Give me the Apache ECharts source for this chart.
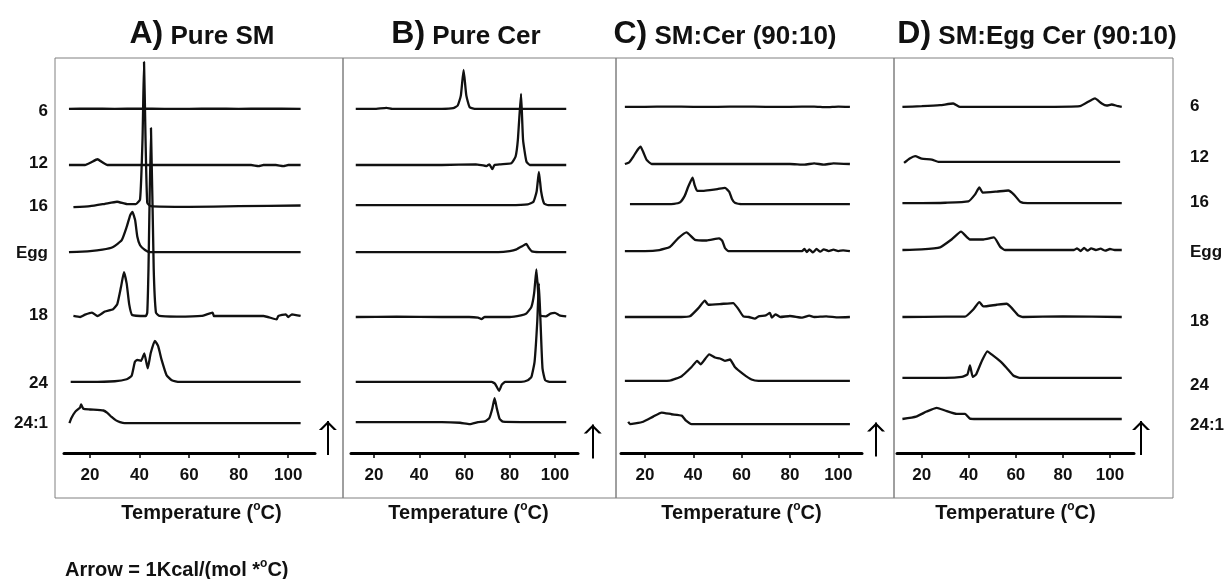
<!DOCTYPE html>
<html>
<head>
<meta charset="utf-8">
<script src="https://cdn.jsdelivr.net/npm/echarts@6/dist/echarts.min.js"></script>
<style>
  html, body { margin: 0; padding: 0; background: #fff; }
  #chart { width: 1225px; height: 579px; }
</style>
</head>
<body>
<div id="chart"></div>
<script>
// ---- data ----
const rowNames = ['6', '12', '16', 'Egg', '18', '24', '24:1']
const panelLetters = ['A)', 'B)', 'C)', 'D)']
const panelNames = ['Pure SM', 'Pure Cer', 'SM:Cer (90:10)', 'SM:Egg Cer (90:10)']
const tempTicks = [20, 40, 60, 80, 100]

// baseline of every thermogram, kcal/(mol*°C) above the temperature axis
const rowOffsets = [
  [10.12, 8.47, 7.26, 5.91, 4.03, 2.09, 0.88],
  [10.12, 8.47, 7.29, 5.91, 4.0, 2.09, 0.91],
  [10.18, 8.5, 7.32, 5.94, 4.0, 2.12, 0.85],
  [10.18, 8.56, 7.35, 5.97, 4.0, 2.21, 1.0]
]
// where the row names sit on the left and right side
const leftLabelAt = [10.06, 8.53, 7.26, 5.88, 4.06, 2.06, 0.88]
const rightLabelAt = [10.21, 8.71, 7.38, 5.91, 3.88, 1.99, 0.82]

// scale arrow = 1 kcal/(mol*°C)
const arrowTemp = [116, 116.7, 115.6, 113.2]
const arrowBase = [-0.06, -0.16, -0.1, -0.06]
const arrowLength = 1

// excess heat capacity [°C, kcal/(mol*°C)] above each baseline
const pureSM = [
  [[11.5, 0], [20, 0.01], [30, 0], [40, 0.01], [50, 0], [60, 0], [70, 0.01], [80, 0], [90, 0.01], [105, 0]],
  [[11.5, 0], [18, 0], [20.5, 0.08], [23, 0.17], [25, 0.08], [27, 0], [40, 0], [60, 0], [85, 0], [88, -0.03], [90, 0], [95, 0], [98, -0.03], [100, 0], [105, 0]],
  [[13.3, -0.03], [20, 0], [26, 0.07], [30.9, 0.13], [35, 0.06], [38.5, 0.06], [40.2, 0.2], [41.2, 2.0], [41.8, 4.24], [42.4, 2.0], [43.1, 0.1], [44.5, 0], [60, -0.02], [80, 0], [105, 0.02]],
  [[11.5, 0], [20, 0.03], [25, 0.07], [29.3, 0.15], [32.8, 0.35], [34.8, 0.74], [36.2, 1.08], [37.1, 1.18], [38.2, 0.94], [39.1, 0.45], [40.2, 0.2], [42.2, 0.06], [44.2, 0], [60, 0], [80, 0], [105, 0]],
  [[13.3, 0], [16, -0.03], [18, 0.04], [20.8, 0.1], [23, 0], [26, 0.13], [29.3, 0.2], [31, 0.35], [32.5, 0.85], [33.7, 1.29], [34.8, 0.95], [35.8, 0.35], [37, 0.03], [42.5, 0], [43.1, 0.1], [43.6, 1.4], [44.6, 5.53], [45.7, 1.4], [46.6, 0.1], [48, 0], [55, -0.02], [65, 0], [69.5, 0.1], [70, 0], [80, 0], [90, 0], [95.3, -0.1], [96, 0], [99, 0.05], [100, -0.03], [101.5, 0.05], [105, 0]],
  [[12.2, 0], [20, 0], [30, 0.02], [34.8, 0.08], [36.8, 0.18], [38.1, 0.59], [39.1, 0.65], [40.6, 0.62], [41.9, 0.84], [43.3, 0.4], [44.5, 0.85], [46.2, 1.21], [47.5, 1.05], [48.9, 0.65], [50.9, 0.2], [53, 0.05], [56, 0], [70, 0], [90, 0], [105, 0]],
  [[11.7, 0], [12.5, 0.15], [14, 0.33], [16, 0.46], [16.4, 0.55], [17.3, 0.42], [20, 0.4], [25.4, 0.37], [27, 0.3], [28.7, 0.18], [30.5, 0.08], [32.1, 0.03], [34, 0], [50, 0], [70, 0], [90, 0], [105, 0]]
]
const pureCer = [
  [[11.9, 0], [20, 0], [25.5, 0.03], [28, 0], [40, 0], [50, 0], [55, 0.02], [57, 0.1], [58.4, 0.4], [59.6, 1.15], [60.8, 0.4], [62.3, 0.05], [65, 0], [80, 0], [95, 0], [105, 0]],
  [[11.9, 0], [30, 0], [50, 0], [65, 0.02], [69.7, -0.03], [71, 0.02], [72.3, -0.12], [73.3, 0], [76, 0.02], [80.7, 0.05], [82.6, 0.25], [83.6, 0.74], [85, 2.09], [85.9, 0.74], [87.4, 0.1], [88.9, 0], [95, 0], [105, 0]],
  [[11.9, 0], [40, 0], [60, 0], [80, 0], [88, 0.02], [90.5, 0.1], [91.9, 0.4], [92.9, 0.98], [93.9, 0.4], [95.2, 0.05], [97, 0], [105, 0]],
  [[11.9, 0], [40, 0], [60, 0], [75, 0], [80, 0.03], [83, 0.08], [85.5, 0.17], [87.3, 0.24], [88.5, 0.12], [89.8, 0.02], [93, 0], [105, 0]],
  [[11.9, 0], [30, 0.01], [50, 0], [62, 0], [66, -0.02], [67.5, -0.06], [69, 0], [80, 0], [85, 0.05], [87.3, 0.1], [89.6, 0.3], [90.8, 0.7], [91.8, 1.4], [92.8, 0.5], [93.5, 0.05], [96, 0.02], [98, 0.1], [100, 0.12], [102, 0.05], [105, 0.02]],
  [[11.9, 0], [30, 0], [50, 0], [65, 0], [72, 0], [73.5, -0.05], [75.3, -0.26], [76.5, -0.08], [78, 0], [85, 0], [88, 0.05], [89.6, 0.15], [91, 0.6], [92.2, 1.8], [92.9, 2.9], [93.6, 1.8], [94.5, 0.4], [95.7, 0.05], [98, 0], [105, 0]],
  [[11.9, 0], [30, 0], [50, 0], [58, -0.02], [62.3, -0.06], [66, 0], [69, 0.02], [71, 0.12], [72.3, 0.4], [73.3, 0.7], [74.3, 0.4], [75.5, 0.1], [77, 0.01], [85, 0], [105, 0]]
]
const smCer = [
  [[11.7, 0], [20, 0], [30, 0.01], [40, 0], [50, 0], [60, 0.01], [70, 0], [80, 0], [90, 0.01], [95, -0.01], [100, 0.01], [104.8, 0]],
  [[11.7, 0], [13.5, 0.05], [15.2, 0.22], [17, 0.42], [18.2, 0.51], [19.3, 0.35], [20.7, 0.12], [22.8, 0], [40, 0], [60, 0], [80, 0], [86, -0.02], [90, 0.02], [94, -0.02], [98, 0.02], [104.8, 0]],
  [[13.8, 0], [25, 0], [32, 0.01], [34.5, 0.05], [36.5, 0.25], [37.9, 0.51], [39.7, 0.78], [40.6, 0.55], [41.6, 0.39], [44, 0.39], [46.9, 0.41], [50, 0.44], [53.1, 0.48], [54.9, 0.36], [56, 0.15], [57.2, 0.04], [60, 0], [80, 0], [104.8, 0]],
  [[11.7, 0], [20, 0], [26, 0.03], [30.3, 0.12], [33.8, 0.38], [37.2, 0.55], [40.7, 0.33], [45.5, 0.31], [50.7, 0.37], [52, 0.3], [53.1, 0.09], [54.5, 0], [70, 0], [85, 0], [86, 0.06], [87, -0.03], [88, 0.05], [89.5, -0.04], [91, 0.06], [92.5, -0.02], [94, 0.05], [96, 0], [98, 0.04], [100, 0], [102, 0.02], [104.8, 0]],
  [[11.7, 0], [25, 0], [35, 0], [38.6, 0.02], [42.1, 0.26], [44.8, 0.48], [46.2, 0.36], [51, 0.38], [56.5, 0.41], [58.6, 0.24], [60.7, 0.02], [63, 0], [65.5, -0.05], [67, 0.02], [70, 0.05], [71.7, 0.12], [72.5, -0.02], [74, 0.08], [76, 0], [80, 0.03], [85, -0.02], [88, 0.04], [90, 0], [95, 0.02], [100, -0.01], [104.8, 0]],
  [[11.7, 0], [20, 0], [30.3, 0.01], [35.2, 0.14], [39.3, 0.41], [41.6, 0.59], [43, 0.49], [46.6, 0.78], [49, 0.69], [51, 0.66], [53.1, 0.59], [55.2, 0.63], [57.2, 0.41], [60.7, 0.2], [64.1, 0.04], [67, 0], [80, 0], [104.8, 0]],
  [[13.1, 0.07], [13.8, 0], [16, 0.02], [19.3, 0.07], [23.4, 0.22], [26.9, 0.34], [31, 0.29], [35.2, 0.25], [37, 0.1], [39.3, 0], [60, 0], [80, 0], [104.8, 0]]
]
const smEggCer = [
  [[11.8, 0], [20, 0.02], [27.8, 0.05], [33.4, 0.1], [36.3, 0], [50, 0], [70, 0], [87.2, 0.02], [91.5, 0.18], [93.6, 0.25], [96.5, 0.1], [98.6, 0.04], [100.7, 0.07], [103, 0.03], [105, 0]],
  [[12.5, -0.03], [14.9, 0.1], [17.2, 0.17], [20, 0.1], [24.3, 0.07], [27.1, 0], [50, 0], [80, 0], [104.3, 0]],
  [[11.8, 0], [20, 0], [30, 0.01], [39.8, 0.05], [42.6, 0.25], [44.5, 0.46], [45.9, 0.31], [51.9, 0.34], [56.8, 0.37], [59.2, 0.25], [62, 0.03], [65, 0], [85, 0], [105, 0]],
  [[11.8, 0], [20, 0.02], [27.8, 0.08], [32.7, 0.31], [36.7, 0.54], [40.5, 0.31], [46.2, 0.31], [50.7, 0.37], [53.3, 0.1], [55.4, 0], [70, 0], [84.7, 0], [86, 0.05], [87.5, -0.03], [89, 0.06], [90.5, -0.02], [92, 0.05], [94, 0], [96, 0.04], [98, -0.02], [100, 0.03], [102, 0], [105, 0]],
  [[11.8, 0], [30, 0.01], [38.4, 0.01], [41.9, 0.22], [44.5, 0.44], [46.2, 0.31], [51.9, 0.36], [56.1, 0.39], [58.2, 0.27], [61, 0.05], [63, 0], [80, 0.02], [105, 0]],
  [[11.8, 0], [30, 0], [37, 0.03], [39.4, 0.1], [40.5, 0.37], [41.7, 0.03], [43.1, 0.1], [45.5, 0.49], [47.9, 0.78], [49.7, 0.69], [53.3, 0.49], [56.1, 0.29], [58.9, 0.07], [61.7, 0], [80, 0], [105, 0]],
  [[11.8, 0], [17.6, 0.07], [22.1, 0.22], [26.4, 0.33], [29.9, 0.25], [34.9, 0.15], [38.4, 0.15], [40.5, 0.01], [43.4, 0], [70, 0], [105, 0]]
]
const panels = [pureSM, pureCer, smCer, smEggCer]

// ---- layout ----
const W = 1225
const H = 579
const font = "'Liberation Sans', Arial, sans-serif"
const frameEdges = [55, 343, 616, 894, 1173]
const frameTop = 58
const frameBottom = 498
const axisY = 453
const axisLeft = [64, 351, 621, 897]
const axisRight = [315, 578, 862, 1134]
const axisRange = [[9.5, 110.8], [9.8, 110.2], [10.1, 109.8], [9.5, 110.2]]
const nameShift = [12, 4, 0, 0]
const titleCenter = [202, 466, 725, 1037]
const pxPerUnit = 34
const yMax = (axisY - frameTop) / pxPerUnit

// open arrow head, tip at the centre of the symbol box
const arrowHead = 'path://M5,0 L5.01,0 L5,0.01 Z M0,18 L5,9 L10,18 L8.3,18 L5,12 L1.7,18 Z'

const nearest = (arr, v) => {
  let best = 0
  arr.forEach((a, i) => { if (Math.abs(a - v) < Math.abs(arr[best] - v)) best = i })
  return best
}

const grids = []
const xAxes = []
const yAxes = []
const series = []

panels.forEach((traces, p) => {
  grids.push({
    left: axisLeft[p], right: W - axisRight[p], top: frameTop, bottom: H - axisY,
    outerBoundsMode: 'none', containLabel: false
  })
  xAxes.push({
    gridIndex: p,
    type: 'value',
    min: axisRange[p][0],
    max: axisRange[p][1],
    axisLine: { show: true, onZero: false, lineStyle: { color: '#000', width: 3 } },
    axisTick: { show: true, customValues: tempTicks, length: 5, lineStyle: { color: '#000', width: 1.5 } },
    axisLabel: { customValues: tempTicks, margin: 14, fontSize: 17, fontWeight: 'bold', color: '#111', fontFamily: font },
    splitLine: { show: false },
    name: 'Temperature ({s|o}C)',
    nameLocation: 'middle',
    nameGap: 48,
    nameTextStyle: {
      fontSize: 20, fontWeight: 'bold', color: '#111', fontFamily: font, lineHeight: 24,
      padding: [0, 0, 0, nameShift[p] * 2],
      rich: { s: { fontSize: 12, fontWeight: 'bold', color: '#111', fontFamily: font, lineHeight: 12, verticalAlign: 'top' } }
    }
  })
  const side = p === 0 ? 'left' : 'right'
  const labelAt = p === 0 ? leftLabelAt : rightLabelAt
  const showLabels = p === 0 || p === 3
  yAxes.push({
    gridIndex: p,
    type: 'value',
    position: side,
    min: 0,
    max: yMax,
    axisLine: { show: false },
    axisTick: { show: false },
    splitLine: { show: false },
    axisLabel: {
      show: showLabels,
      customValues: labelAt,
      margin: p === 0 ? 16 : 56,
      fontSize: 17, fontWeight: 'bold', color: '#111', fontFamily: font,
      formatter: v => rowNames[nearest(labelAt, v)]
    }
  })
  traces.forEach((trace, r) => {
    series.push({
      type: 'line',
      name: panelNames[p] + ' ' + rowNames[r],
      xAxisIndex: p,
      yAxisIndex: p,
      data: trace.map(([t, cp]) => [t, cp + rowOffsets[p][r]]),
      showSymbol: false,
      symbol: 'none',
      smooth: 0.15,
      clip: false,
      silent: true,
      lineStyle: { color: '#111', width: 2.3 }
    })
  })
  series.push({
    type: 'lines',
    coordinateSystem: 'cartesian2d',
    xAxisIndex: p,
    yAxisIndex: p,
    clip: false,
    silent: true,
    symbol: ['none', arrowHead],
    symbolSize: [10, 18],
    lineStyle: { color: '#000', width: 2, opacity: 1, curveness: 0 },
    itemStyle: { color: '#000' },
    data: [{ coords: [[arrowTemp[p], arrowBase[p]], [arrowTemp[p], arrowBase[p] + arrowLength]] }]
  })
})

// panel frames
for (let p = 0; p < 4; p++) {
  grids.push({
    left: frameEdges[p], right: W - frameEdges[p + 1], top: frameTop, bottom: H - frameBottom,
    show: true, borderColor: '#808080', borderWidth: 1, backgroundColor: 'transparent',
    outerBoundsMode: 'none', containLabel: false
  })
}

const titles = panelNames.map((n, i) => ({
  text: `{a|${panelLetters[i]}}{b| ${n}}`,
  left: titleCenter[i],
  top: 18,
  textAlign: 'center',
  padding: 0,
  textStyle: {
    rich: {
      a: { fontSize: 32, fontWeight: 'bold', color: '#111', fontFamily: font, lineHeight: 32, verticalAlign: 'bottom' },
      b: { fontSize: 26, fontWeight: 'bold', color: '#111', fontFamily: font, lineHeight: 27.8, verticalAlign: 'bottom' }
    }
  }
}))
titles.push({
  text: '{t|Arrow = 1Kcal/(mol *}{s|o}{t|C)}',
  left: 65,
  top: 558,
  padding: 0,
  textStyle: {
    rich: {
      t: { fontSize: 20, fontWeight: 'bold', color: '#111', fontFamily: font, lineHeight: 24 },
      s: { fontSize: 12, fontWeight: 'bold', color: '#111', fontFamily: font, lineHeight: 12, verticalAlign: 'top' }
    }
  }
})

const chart = echarts.init(document.getElementById('chart'), null, { renderer: 'canvas' })
chart.setOption({
  animation: false,
  backgroundColor: '#fff',
  title: titles,
  grid: grids,
  xAxis: xAxes,
  yAxis: yAxes,
  series: series
})
</script>
</body>
</html>
